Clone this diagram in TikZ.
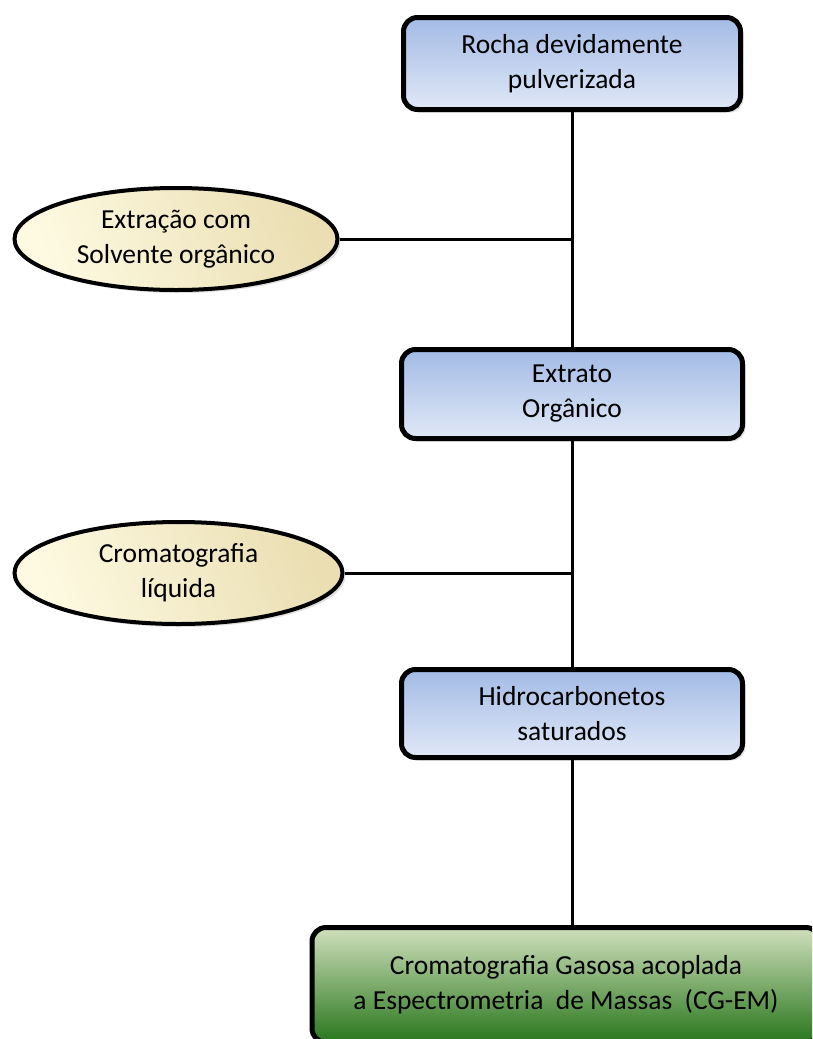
\documentclass[tikz,border=0pt]{standalone}
\usepackage{fontspec}
\setmainfont{Carlito}
\usetikzlibrary{shapes.geometric, shadows}
\definecolor{caixaTopo}{RGB}{163,187,229}
\definecolor{caixaBase}{RGB}{224,232,247}
\definecolor{elipseClara}{RGB}{254,250,226}
\definecolor{elipseEscura}{RGB}{234,222,178}
\definecolor{verdeTopo}{RGB}{208,224,188}
\definecolor{verdeBase}{RGB}{40,118,28}
\tikzset{
    etapa/.style={
        draw=black, line width=5pt, rounded corners=14pt,
        top color=caixaTopo, bottom color=caixaBase,
        align=center, inner sep=0pt,
        font=\fontsize{27.5}{35}\selectfont,
        drop shadow={opacity=0.25, shadow xshift=3pt, shadow yshift=-3pt}
    },
    final/.style={
        etapa, top color=verdeTopo, bottom color=verdeBase
    },
    processo/.style={
        ellipse, draw=black, line width=4pt,
        shading=axis, left color=elipseClara, middle color=elipseClara, right color=elipseEscura, shading angle=110,
        align=center, inner sep=0pt,
        font=\fontsize{27.5}{35}\selectfont,
        drop shadow={opacity=0.25, shadow xshift=3pt, shadow yshift=-3pt}
    },
    liga/.style={line width=3pt, draw=black}
}
\begin{document}
\begin{tikzpicture}[x=1pt, y=-1pt]
        \useasboundingbox (0,0) rectangle (812,1039);
        \clip (0,0) rectangle (812,1039);
        % Etapas
        \node[etapa, minimum width=337pt, minimum height=92pt] (rocha) at (572,63.5) {Rocha devidamente\\pulverizada};
        \node[etapa, minimum width=341pt, minimum height=89pt] (extrato) at (572,394) {Extrato\\Orgânico};
        \node[etapa, minimum width=341pt, minimum height=88pt] (hidro) at (572,713.5) {Hidrocarbonetos\\saturados};
        \node[final, minimum width=508pt, minimum height=115pt] (cgem) at (566,985) {Cromatografia Gasosa acoplada\\a Espectrometria\ \ de Massas\ \ (CG-EM)};
        % Processos
        \node[processo, minimum width=323pt, minimum height=102pt] (extracao) at (176,239) {Extração com\\Solvente orgânico};
        \node[processo, minimum width=328pt, minimum height=102pt] (liquida) at (178.5,573) {Cromatografia\\líquida};
        % Ligações
        \draw[liga] (rocha.south) -- (extrato.north);
        \draw[liga] (extrato.south) -- (hidro.north);
        \draw[liga] (hidro.south) -- (hidro.south |- cgem.north);
        \draw[liga] (extracao.east) -- (extracao.east -| rocha.south);
        \draw[liga] (liquida.east) -- (liquida.east -| extrato.south);
    \end{tikzpicture}
\end{document}
